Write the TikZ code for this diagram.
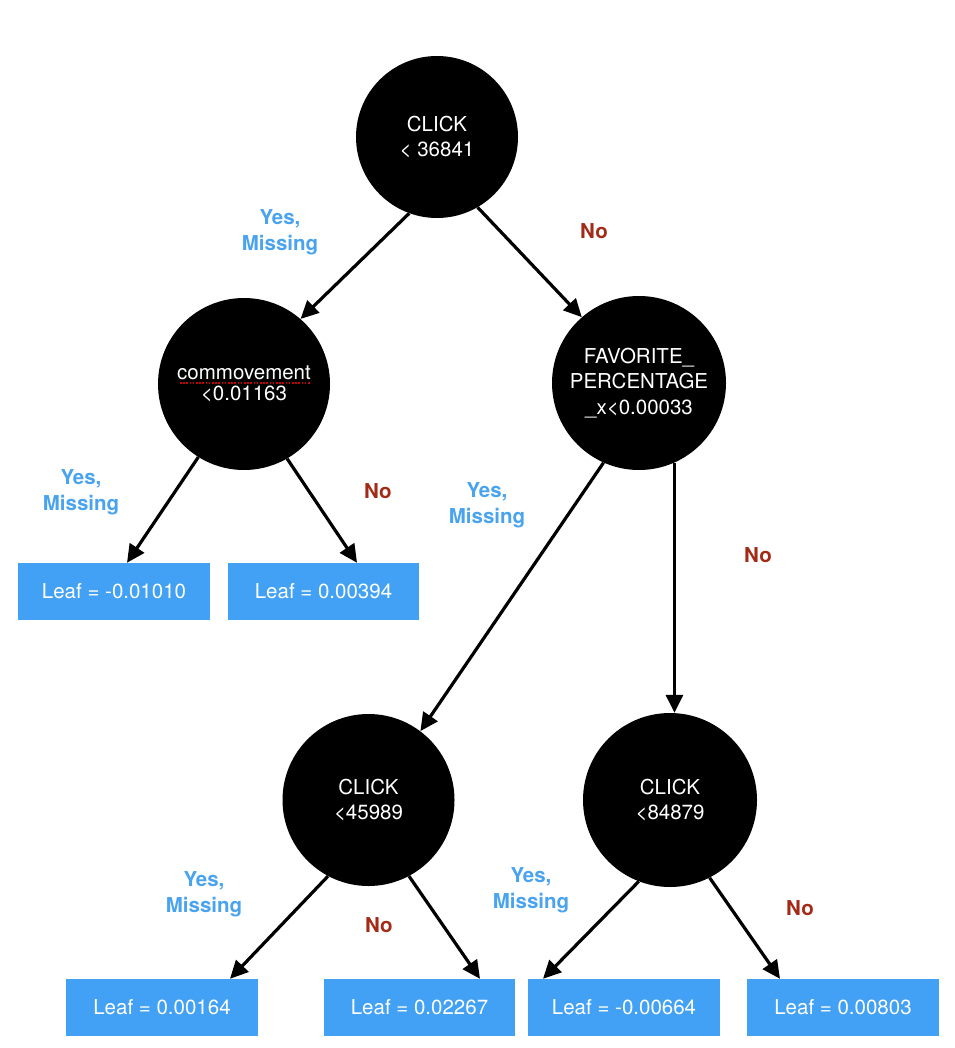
\documentclass[tikz,border=0pt]{standalone}
\usepackage{fontspec}
\setmainfont{TeX Gyre Heros}
\usetikzlibrary{arrows.meta,calc}
\definecolor{leafblue}{RGB}{66,161,245}
\definecolor{labelblue}{RGB}{74,163,238}
\definecolor{nored}{RGB}{163,42,23}
\tikzset{
  decision/.style={circle,fill=black,text=white,inner sep=0pt,align=center,
    font=\fontsize{20.5}{25.5}\selectfont},
  leafbox/.style={rectangle,fill=leafblue,text=white,inner sep=0pt,
    minimum width=192pt,minimum height=57pt,font=\fontsize{20.5}{25}\selectfont},
  yeslabel/.style={text=labelblue,align=center,font=\fontsize{20.5}{26}\selectfont\bfseries},
  nolabel/.style={text=nored,font=\fontsize{20.5}{26}\selectfont\bfseries},
  edge/.style={line width=3.2pt,-{Triangle[length=18pt,width=17pt]}}
}
\begin{document}
\begin{tikzpicture}[x=1pt,y=-1pt]
\useasboundingbox (0,0) rectangle (954,1048);
% decision nodes
\node[decision,minimum size=162pt] (root) at (437,137) {CLICK\\< 36841};
\node[decision,minimum size=172pt,font=\fontsize{20.5}{20.5}\selectfont] (comm) at (244,384) {commovement\\<0.01163};
\node[decision,minimum size=174pt] (fav) at (639,383) {FAVORITE\_\\PERCENTAGE\\\_x<0.00033};
\node[decision,minimum size=172pt] (ca) at (368.5,800) {CLICK\\<45989};
\node[decision,minimum size=174pt] (cb) at (670,800) {CLICK\\<84879};
% spell-check underline
\draw[red!80!black,line width=1.5pt,dash pattern=on 1.6pt off 1.6pt] (180,383) -- (310,383);
% leaves
\node[leafbox] (l1) at (114,591.5) {Leaf = -0.01010};
\node[leafbox,minimum width=191pt] (l2) at (323.5,591.5) {Leaf = 0.00394};
\node[leafbox] (l3) at (162,1007.5) {Leaf = 0.00164};
\node[leafbox,minimum width=191pt] (l4) at (419.5,1007.5) {Leaf = 0.02267};
\node[leafbox] (l5) at (624,1007.5) {Leaf = -0.00664};
\node[leafbox] (l6) at (843,1007.5) {Leaf = 0.00803};
% edges
\draw[edge] (root.250) -- (comm.49);
\draw[edge] (root.300) -- (fav.131);
\draw[edge] (comm.238) -- ($(l1.north)+(13,0)$);
\draw[edge] (comm.300) -- ($(l2.north)+(33.5,0)$);
\draw[edge] (fav.246) -- (ca.53.5);
\draw[edge] (fav.294) -- (fav.294 |- cb.north);
\draw[edge] (ca.242.6) -- ($(l3.north)+(68,0)$);
\draw[edge] (ca.298) -- ($(l4.north)+(60.5,0)$);
\draw[edge] (cb.249) -- ($(l5.north)+(-81,0)$);
\draw[edge] (cb.297.7) -- ($(l6.north)+(-63,0)$);
% labels
\node[yeslabel] (y1) at (280,232) {Yes,\\Missing};
\node[nolabel] (n1) at (594,231) {No};
\node[yeslabel] (y2) at (81,492) {Yes,\\Missing};
\node[nolabel] (n2) at (378,491) {No};
\node[yeslabel] (y3) at (487,505) {Yes,\\Missing};
\node[nolabel] (n3) at (758,555) {No};
\node[yeslabel] (y4) at (204,894) {Yes,\\Missing};
\node[nolabel] (n4) at (379,925) {No};
\node[yeslabel] (y5) at (531,890) {Yes,\\Missing};
\node[nolabel] (n5) at (800,908) {No};
\end{tikzpicture}
\end{document}
